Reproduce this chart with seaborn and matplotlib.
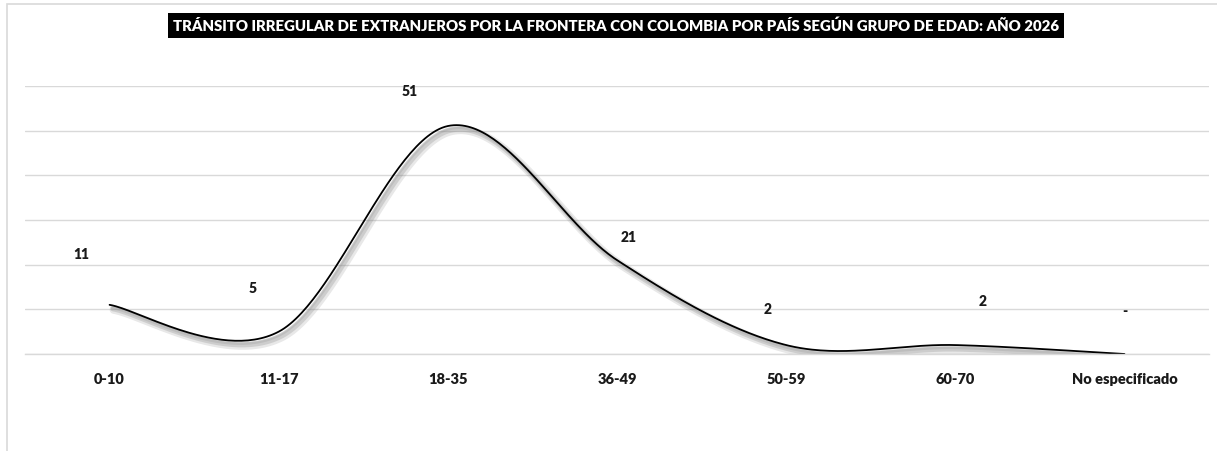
import numpy as np
import pandas as pd
import matplotlib
matplotlib.use("Agg")
import matplotlib.pyplot as plt
import matplotlib.patheffects as pe
from matplotlib.patches import FancyBboxPatch
import seaborn as sns

categories = ["0-10", "11-17", "18-35", "36-49", "50-59", "60-70", "No especificado"]
values = [11, 5, 51, 21, 2, 2, 0]
value_labels = ["11", "5", "51", "21", "2", "2", "-"]
title = "TRÁNSITO IRREGULAR DE EXTRANJEROS POR LA FRONTERA CON COLOMBIA POR PAÍS SEGÚN GRUPO DE EDAD: AÑO 2026"

# label offsets in pixels (style only)
label_dx = [-28, -26, -38, 12, -19, 27, 0]
label_dy = [50, 43, 35, 23, 36, 44, 42]

sns.set_theme(style="white")
plt.rcParams['font.family'] = ['Lato', 'DejaVu Sans']

W, H = 1217, 451
fig = plt.figure(figsize=(W / 100, H / 100), dpi=100)
ax = fig.add_axes([25 / W, 1 - 354 / H, (1209 - 25) / W, (354 - 85.8) / H])

# Excel-like smoothed curve (Bezier, Catmull-Rom control points)
x = np.arange(len(values), dtype=float)
y = np.array(values, dtype=float)
P = np.column_stack([x, y])
Pext = np.vstack([P[0], P, P[-1]])
sx, sy = [], []
t = np.linspace(0, 1, 60)
for i in range(len(P) - 1):
    p0, p1 = Pext[i + 1], Pext[i + 2]
    c1 = p0 + (Pext[i + 2] - Pext[i]) / 6
    c2 = p1 - (Pext[i + 3] - Pext[i + 1]) / 6
    b = ((1 - t) ** 3)[:, None] * p0 + (3 * (1 - t) ** 2 * t)[:, None] * c1 + \
        (3 * (1 - t) * t ** 2)[:, None] * c2 + (t ** 3)[:, None] * p1
    sx.extend(b[:, 0]); sy.extend(b[:, 1])
smooth = pd.DataFrame({"x": sx, "y": sy})

sns.lineplot(data=smooth, x="x", y="y", ax=ax, color="black", linewidth=1.3, sort=False,
             path_effects=[pe.SimpleLineShadow(offset=(3, -3.5), shadow_color="#808080", alpha=0.18, linewidth=6),
                           pe.SimpleLineShadow(offset=(2.5, -3), shadow_color="#808080", alpha=0.25, linewidth=3.5),
                           pe.SimpleLineShadow(offset=(1.5, -2), shadow_color="#808080", alpha=0.2, linewidth=2),
                           pe.Normal()])

for i, (v, lab) in enumerate(zip(values, value_labels)):
    ax.annotate(lab, (i, v), xytext=(label_dx[i], label_dy[i]), textcoords="offset pixels",
                ha="center", va="center", fontsize=10, fontweight="heavy", color="#1a1a1a")

ax.set_xlim(-0.5, len(categories) - 0.5)
ax.set_ylim(0, 60)
ax.set_yticks(np.arange(0, 61, 10))
ax.set_yticklabels([])
ax.tick_params(axis="y", length=0)
ax.set_xticks(x)
ax.set_xticklabels(categories, fontsize=10.5, fontweight="heavy", color="#1a1a1a")
ax.tick_params(axis="x", length=0, pad=14)
ax.grid(axis="y", color="#d9d9d9", linewidth=1)
ax.set_axisbelow(True)
for s in ["top", "right", "left"]:
    ax.spines[s].set_visible(False)
ax.spines["bottom"].set_color("#d9d9d9")
ax.spines["bottom"].set_linewidth(1)
ax.set_xlabel("")
ax.set_ylabel("")

# outer chart border
border = FancyBboxPatch((6.5 / W, -0.2), 1.3, 1 - 3.5 / H + 0.2, boxstyle="square,pad=0",
                        transform=fig.transFigure, facecolor="none", edgecolor="#d9d9d9",
                        linewidth=1.2)
fig.patches.append(border)

fig.text(616 / W, 1 - 25.5 / H, title, ha="center", va="center", color="white",
         fontsize=10.8, fontweight="heavy",
         bbox=dict(boxstyle="square,pad=0.35", facecolor="black", edgecolor="none"))

fig.savefig("out.png", dpi=100)
